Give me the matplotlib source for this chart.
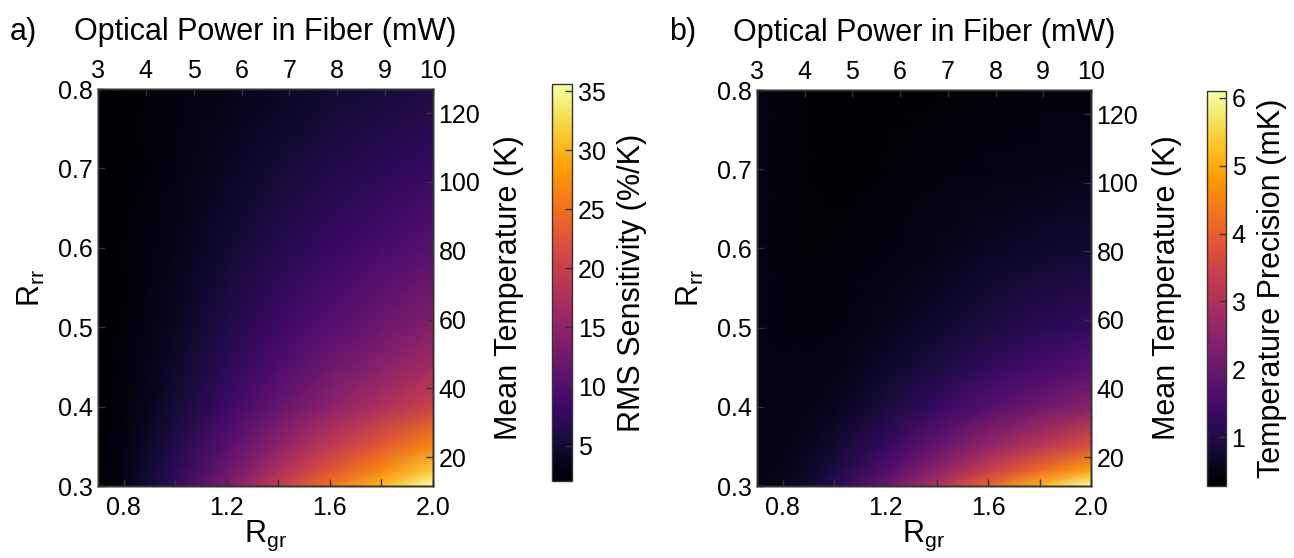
import numpy as np
import matplotlib
matplotlib.use("Agg")
import matplotlib.pyplot as plt

plt.rcParams['font.family'] = ['Liberation Sans', 'DejaVu Sans']
plt.rcParams['mathtext.default'] = 'regular'

# grid
r_gr = [0.7, 0.8, 0.9, 1.0, 1.2, 1.4, 1.6, 1.8, 2.0]
r_rr = [0.3, 0.32, 0.35, 0.4, 0.45, 0.5, 0.6, 0.7, 0.8]

# RMS sensitivity (%/K), rows follow r_rr
sensitivity = [
    [2.0, 3.3, 5.4, 7.7, 13.4, 19.5, 25.2, 30.2, 35.6],
    [2.0, 3.2, 5.0, 7.0, 12.1, 17.4, 22.4, 26.8, 31.6],
    [2.0, 3.0, 4.5, 6.2, 10.5, 14.9, 19.2, 22.9, 26.9],
    [2.0, 2.7, 3.8, 5.1, 8.3, 11.6, 14.7, 17.5, 20.5],
    [2.0, 2.6, 3.5, 4.5, 7.0, 9.7, 12.2, 14.4, 16.8],
    [2.0, 2.5, 3.2, 4.1, 6.1, 8.3, 10.3, 12.2, 14.1],
    [2.0, 2.3, 2.8, 3.4, 4.9, 6.4, 7.8, 9.1, 10.4],
    [2.0, 2.2, 2.6, 3.0, 4.0, 5.1, 6.1, 6.9, 7.9],
    [2.0, 2.2, 2.4, 2.7, 3.4, 4.1, 4.8, 5.4, 6.0],
]

# temperature precision (mK), rows follow r_rr
precision = [
    [0.48, 0.57, 0.79, 1.10, 1.97, 3.02, 4.12, 5.11, 6.10],
    [0.48, 0.54, 0.70, 0.93, 1.63, 2.47, 3.35, 4.15, 4.94],
    [0.48, 0.50, 0.61, 0.77, 1.29, 1.92, 2.59, 3.18, 3.77],
    [0.48, 0.46, 0.50, 0.58, 0.91, 1.29, 1.70, 2.07, 2.43],
    [0.48, 0.44, 0.44, 0.48, 0.70, 0.96, 1.24, 1.49, 1.74],
    [0.48, 0.43, 0.41, 0.42, 0.57, 0.75, 0.93, 1.10, 1.27],
    [0.48, 0.41, 0.37, 0.35, 0.43, 0.53, 0.63, 0.72, 0.80],
    [0.48, 0.40, 0.35, 0.32, 0.36, 0.40, 0.45, 0.50, 0.54],
    [0.48, 0.40, 0.34, 0.30, 0.32, 0.34, 0.37, 0.39, 0.41],
]

power_range = (3, 10)
power_ticks = [3, 4, 5, 6, 7, 8, 9, 10]
temp_range = (11.6, 127)
temp_ticks = [20, 40, 60, 80, 100, 120]

sens_range = (2.0, 35.6)
sens_ticks = [5, 10, 15, 20, 25, 30, 35]
prec_range = (0.28, 6.1)
prec_ticks = [1, 2, 3, 4, 5, 6]

TICK = 18
LABEL = 22
SPINE = '#333333'


def style_axis(a):
    for s in a.spines.values():
        s.set_color(SPINE)
        s.set_linewidth(1.0)
    a.tick_params(which='both', direction='in', length=5, width=1, color=SPINE,
                  labelsize=TICK)


def panel(fig, rect, crect, values, vrange, cticks, clabel, letter):
    ax = fig.add_axes(rect)
    mesh = ax.pcolormesh(r_gr, r_rr, np.array(values), shading='gouraud',
                         cmap='inferno', vmin=vrange[0], vmax=vrange[1])
    ax.set_xlim(0.7, 2.0)
    ax.set_ylim(0.3, 0.8)
    ax.set_xticks([0.8, 1.2, 1.6, 2.0])
    ax.set_xticklabels(['0.8', '1.2', '1.6', '2.0'])
    ax.set_xticks([1.0, 1.4, 1.8], minor=True)
    ax.set_yticks([0.3, 0.4, 0.5, 0.6, 0.7, 0.8])
    ax.set_xlabel('R$_{gr}$', fontsize=LABEL, labelpad=-1)
    ax.set_ylabel('R$_{rr}$', fontsize=LABEL, labelpad=8)
    style_axis(ax)
    ax.tick_params(axis='x', pad=7)

    top = ax.twiny()
    top.set_xlim(*power_range)
    top.set_xticks(power_ticks)
    top.set_xlabel('Optical Power in Fiber (mW)', fontsize=LABEL, labelpad=14)
    style_axis(top)
    top.tick_params(axis='x', pad=4)

    right = ax.twinx()
    right.set_ylim(*temp_range)
    right.set_yticks(temp_ticks)
    right.set_ylabel('Mean Temperature (K)', fontsize=LABEL, labelpad=10)
    style_axis(right)
    right.tick_params(axis='y', pad=4)

    cax = fig.add_axes(crect)
    cb = fig.colorbar(mesh, cax=cax)
    cb.set_ticks(cticks)
    cb.outline.set_edgecolor(SPINE)
    cb.outline.set_linewidth(1.0)
    cax.tick_params(direction='in', length=5, width=1, color=SPINE,
                    labelsize=TICK, pad=4)
    cb.set_label(clabel, fontsize=LABEL, labelpad=8)

    fig.text(rect[0] - 0.068, 0.942, letter, fontsize=LABEL, ha='left', va='center')
    return ax


fig = plt.figure(figsize=(12.94, 5.58), dpi=100)

panel(fig, [0.0757, 0.129, 0.2589, 0.7115], [0.4266, 0.138, 0.0155, 0.7115],
      sensitivity, sens_range, sens_ticks, 'RMS Sensitivity (%/K)', 'a)')
panel(fig, [0.585, 0.129, 0.2581, 0.7097], [0.9328, 0.129, 0.0147, 0.708],
      precision, prec_range, prec_ticks, 'Temperature Precision (mK)', 'b)')

fig.savefig('out.png', dpi=100)
